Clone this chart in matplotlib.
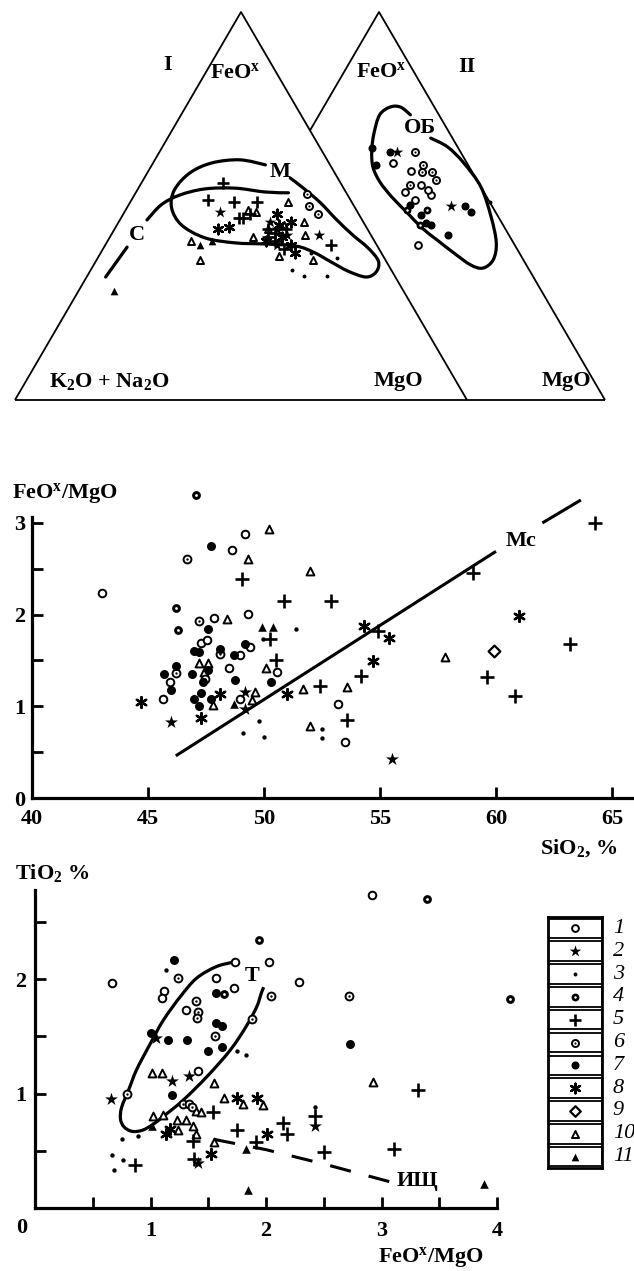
import numpy as np
import matplotlib
matplotlib.use("Agg")
import matplotlib.pyplot as plt
from matplotlib.path import Path
from matplotlib.patches import PathPatch, Rectangle

# ---------------- DATA ----------------
# Ternary diagram I (FeO^x, MgO in %, alkalis = rest): (FeO, MgO)
TI_PLUS = [(56, 18), (51.5, 17), (51, 23), (51, 28), (47, 26), (48, 28), (44, 34), (41, 37),
           (39, 40), (40, 50), (47, 27), (42, 35), (44, 38), (43, 36)]
TI_STAR = [(48.5, 21), (42.5, 46), (46, 33.5), (42.5, 39), (44, 36), (40, 38)]
TI_AST = [(44, 23), (44.5, 25), (38, 43), (48, 34), (45, 36), (40, 41), (42, 38), (46, 38), (41, 35)]
TI_OTRI = [(41, 18.5), (36, 23), (42, 31.6), (49, 27), (48.5, 29), (51, 35), (46, 41), (42.5, 43),
           (36, 48), (37, 40), (44, 34), (45, 37)]
TI_FTRI = [(28, 8), (40, 21), (41, 23)]
TI_DOT = [(33.5, 44.6), (32, 48), (32, 53), (36.6, 53), (38, 46.5)]
TI_DCIRC = [(53, 38), (50, 40), (48, 43)]
# Ternary diagram II
TII_FCIRC = [(65, 16), (60.6, 19), (64, 20.5), (42.5, 44), (50, 44), (48.5, 46), (45.6, 37.5),
             (45, 39), (50.3, 31.8), (47.7, 35.4)]
TII_DOT = [(51, 49)]
TII_STAR = [(64, 22), (50, 41)]
TII_OCIRC = [(61, 22.5), (59, 27.5), (40, 38.6), (53.6, 29), (55.4, 31.5), (52.8, 35), (51.5, 32.3),
             (54.1, 33.7)]
TII_DCIRC = [(64, 26), (60.6, 29.5), (58.8, 32.4), (58.8, 30.2), (56.7, 34.2), (55.4, 29.2)]
TII_4 = [(49, 31.8), (49, 36.2), (45.1, 36.6)]
# Field outlines (FeO, MgO)
FIELD_M = [(57.2, 32.3), (54.6, 36.5), (50.8, 42.2), (46.4, 48.0), (42.5, 53.5), (39.2, 58.5),
           (35.8, 62.5), (33.0, 63.4), (31.7, 61.8), (33.2, 57.1), (35.6, 52.1), (38.1, 47.0),
           (39.7, 42.2), (40.2, 35.3), (40.5, 28.4), (41.8, 21.1), (45.1, 14.3), (49.5, 9.9),
           (54.1, 8.2), (58.5, 9.4), (61.1, 13.0), (61.9, 18.8), (60.6, 25.1)]
TREND_C = [(53.4, 33.8), (53.6, 28.6), (54.6, 21.4), (54.4, 14.8), (52.8, 10.0), (50.3, 7.2), (46.4, 6.0)]
TREND_C_LOW = [(39.4, 5.1), (31.7, 4.2)]
FIELD_OB = [(73.5, 20.2), (75.5, 17.0), (75.5, 14.7), (73.5, 13.4), (68.8, 14.5), (64.4, 16.2),
            (60.1, 18.6), (56.2, 22.1), (52.3, 26.7), (48.2, 32.2), (44.3, 37.4), (41.2, 42.3),
            (37.9, 47.6), (34.8, 52.9), (34.0, 56.0), (36.1, 57.2), (40.5, 55.7), (47.2, 51.2),
            (54.9, 45.1), (61.1, 38.2), (65.2, 32.6), (67.5, 27.7)]

# SiO2 (%) vs FeO^x/MgO
MID_1 = [(43.0, 2.24), (48.6, 2.71), (49.3, 2.01), (47.85, 1.96), (47.3, 1.69), (47.55, 1.72),
         (49.4, 1.65), (48.95, 1.56), (50.55, 1.37), (45.95, 1.27), (48.5, 1.42), (45.65, 1.08),
         (48.98, 1.08), (53.2, 1.03), (53.5, 0.61), (49.18, 2.88)]
MID_2 = [(49.2, 1.16), (49.2, 0.97), (46.0, 0.83), (55.5, 0.42)]
MID_3 = [(51.4, 1.84), (49.8, 0.84), (49.1, 0.71), (50.0, 0.67), (52.5, 0.75), (52.5, 0.65), (49.95, 1.73)]
MID_4 = [(47.09, 3.30), (46.3, 1.83), (46.2, 2.07)]
MID_5 = [(49.05, 2.39), (50.85, 2.15), (52.9, 2.15), (50.25, 1.73), (50.5, 1.51), (52.4, 1.22),
         (54.9, 1.82), (54.2, 1.33), (53.6, 0.85), (59.0, 2.45), (59.6, 1.32), (60.8, 1.11),
         (63.2, 1.68), (64.27, 3.0)]
MID_6 = [(46.7, 2.61), (47.2, 1.93), (48.1, 1.57), (46.2, 1.36), (47.45, 1.30)]
MID_7 = [(47.7, 2.75), (47.6, 1.84), (47.0, 1.60), (47.2, 1.59), (48.1, 1.63), (48.7, 1.56),
         (46.2, 1.44), (45.7, 1.35), (46.0, 1.18), (48.75, 1.29), (50.3, 1.27), (47.0, 1.08),
         (47.2, 1.0), (47.3, 1.15), (47.7, 1.08), (47.6, 1.40), (46.9, 1.35), (47.35, 1.27), (49.2, 1.68)]
MID_8 = [(44.7, 1.05), (48.1, 1.13), (47.3, 0.87), (51.0, 1.13), (54.3, 1.88), (55.4, 1.75),
         (54.7, 1.49), (61.0, 1.99)]
MID_9 = [(59.9, 1.60)]
MID_10 = [(49.3, 2.61), (50.22, 2.93), (52.0, 2.48), (48.4, 1.95), (50.1, 1.42), (47.2, 1.47),
          (47.6, 1.47), (47.8, 1.01), (49.6, 1.16), (49.5, 1.07), (51.7, 1.19), (53.6, 1.21),
          (52.0, 0.78), (57.8, 1.54), (47.4, 1.37)]
MID_11 = [(49.9, 1.87), (50.4, 1.87), (48.7, 1.03)]
LINE_MC = [(46.2, 0.46), (60.0, 2.69)]
LINE_MC_UP = [(62.0, 3.0), (63.66, 3.25)]

# FeO^x/MgO vs TiO2 (%)
BOT_1 = [(0.67, 1.97), (1.12, 1.90), (1.10, 1.84), (1.73, 2.15), (2.03, 2.15), (2.29, 1.98),
         (1.57, 2.01), (1.72, 1.92), (1.31, 1.73), (1.41, 1.20), (2.92, 2.74)]
BOT_2 = [(0.66, 0.95), (1.19, 1.11), (1.33, 1.15), (2.42, 0.72), (1.41, 0.39), (1.05, 1.49)]
BOT_3 = [(1.13, 2.08), (1.75, 1.37), (1.83, 1.34), (0.75, 0.60), (0.67, 0.46), (0.76, 0.42),
         (0.68, 0.33), (0.89, 0.63), (2.42, 0.88)]
BOT_4 = [(1.94, 2.34), (3.39, 2.70), (4.11, 1.83), (1.64, 1.87)]
BOT_5 = [(1.54, 0.84), (1.37, 0.59), (1.75, 0.68), (1.91, 0.58), (1.38, 0.43), (0.87, 0.38),
         (2.15, 0.74), (2.18, 0.65), (2.42, 0.80), (2.50, 0.49), (3.32, 1.03), (3.11, 0.52)]
BOT_6 = [(1.24, 2.01), (2.04, 1.85), (1.39, 1.81), (1.41, 1.71), (1.40, 1.66), (1.56, 1.50),
         (1.88, 1.65), (2.72, 1.85), (0.80, 1.0), (1.28, 0.91), (1.33, 0.91), (1.36, 0.88)]
BOT_7 = [(1.20, 2.17), (1.57, 1.88), (1.57, 1.62), (1.62, 1.59), (1.0, 1.53), (1.15, 1.47),
         (1.32, 1.47), (1.50, 1.37), (1.62, 1.41), (1.19, 0.99), (2.73, 1.43)]
BOT_8 = [(1.75, 0.96), (1.92, 0.96), (1.13, 0.65), (1.17, 0.69), (2.01, 0.65), (1.52, 0.47)]
BOT_10 = [(1.01, 1.18), (1.10, 1.18), (1.55, 1.09), (1.64, 0.96), (1.80, 0.91), (1.97, 0.90),
          (1.39, 0.85), (1.44, 0.84), (1.02, 0.80), (1.11, 0.81), (1.23, 0.77), (1.31, 0.77),
          (1.24, 0.68), (1.37, 0.72), (1.39, 0.65), (1.55, 0.58), (2.93, 1.10)]
BOT_11 = [(1.01, 0.72), (1.83, 0.52), (1.84, 0.16), (3.89, 0.21)]
FIELD_T = [(1.72, 2.15), (1.57, 2.11), (1.40, 2.01), (1.26, 1.85), (1.11, 1.64), (1.0, 1.44),
           (0.88, 1.21), (0.81, 1.03), (0.75, 0.88), (0.74, 0.78), (0.77, 0.71), (0.84, 0.67),
           (0.93, 0.68), (1.02, 0.73), (1.11, 0.80), (1.28, 0.94), (1.49, 1.15), (1.69, 1.38),
           (1.83, 1.59), (1.92, 1.76), (1.96, 1.88), (1.98, 1.93)]
TREND_ISH = [(1.55, 0.60), (2.0, 0.51), (2.5, 0.385), (3.07, 0.23)]

LEGEND_LABELS = ['1', '2', '3', '4', '5', '6', '7', '8', '9', '10', '11']
MID_XTICKS = [40, 45, 50, 55, 60, 65]
MID_YTICKS = [0, 1, 2, 3]
BOT_XTICKS = [0, 1, 2, 3, 4]
BOT_YTICKS = [1, 2]

# ---------------- STYLE ----------------
plt.rcParams['font.family'] = ['Liberation Serif', 'DejaVu Serif']
plt.rcParams['mathtext.fontset'] = 'custom'
plt.rcParams['mathtext.rm'] = 'Liberation Serif:bold'
plt.rcParams['mathtext.it'] = 'Liberation Serif:italic:bold'
plt.rcParams['mathtext.bf'] = 'Liberation Serif:bold'
FS = 16
W, H = 634, 1271
SHIFT = 138 / 4.52   # horizontal offset of triangle II (in % of the base)

fig = plt.figure(figsize=(W / 100, H / 100), dpi=100)


def fx(px):
    return px / W


def fy(py):
    return 1 - py / H


def smooth(pts, closed=False):
    P = np.asarray(pts, float)
    if closed:
        P = np.vstack([P[-1], P, P[0], P[1]])
    else:
        P = np.vstack([P[0], P, P[-1]])
    verts = [P[1]]
    codes = [Path.MOVETO]
    for i in range(1, len(P) - 2):
        p0, p1, p2, p3 = P[i - 1], P[i], P[i + 1], P[i + 2]
        verts += [p1 + (p2 - p0) / 6, p2 - (p3 - p1) / 6, p2]
        codes += [Path.CURVE4] * 3
    return Path(verts, codes)


def tern(pairs, shift=0.0):
    a = np.asarray(pairs, float)
    feo, mgo = a[:, 0], a[:, 1]
    return np.column_stack([mgo + feo / 2 + shift, feo])


def draw(ax, kind, xy, k=1.0):
    xy = np.asarray(xy, float)
    x, y = xy[:, 0], xy[:, 1]
    common = dict(clip_on=False, zorder=4)
    if kind == 1:
        ax.scatter(x, y, s=30 * k, marker='o', facecolors='white', edgecolors='black', linewidths=1.4, **common)
    elif kind == 2:
        ax.scatter(x, y, s=95 * k, marker='*', color='black', linewidths=0, **common)
    elif kind == 3:
        ax.scatter(x, y, s=10 * k, marker='o', color='black', linewidths=0, **common)
    elif kind == 4:
        ax.scatter(x, y, s=40 * k, marker='o', color='black', linewidths=0, **common)
        ax.scatter(x, y, s=4 * k, marker='o', color='white', linewidths=0, clip_on=False, zorder=5)
    elif kind == 5:
        ax.scatter(x, y, s=95 * k, marker='+', color='black', linewidths=1.9, **common)
    elif kind == 6:
        ax.scatter(x, y, s=32 * k, marker='o', facecolors='white', edgecolors='black', linewidths=1.4, **common)
        ax.scatter(x, y, s=3 * k, marker='o', color='black', linewidths=0, clip_on=False, zorder=5)
    elif kind == 7:
        ax.scatter(x, y, s=42 * k, marker='o', color='black', linewidths=0, **common)
    elif kind == 8:
        ax.scatter(x, y, s=60 * k, marker=(6, 2, 0), color='black', linewidths=1.7, **common)
    elif kind == 9:
        ax.scatter(x, y, s=36 * k, marker='D', facecolors='white', edgecolors='black', linewidths=1.6, **common)
    elif kind == 10:
        ax.scatter(x, y, s=32 * k, marker='^', facecolors='white', edgecolors='black', linewidths=1.4, **common)
    elif kind == 11:
        ax.scatter(x, y, s=38 * k, marker='^', color='black', linewidths=0, **common)


# ---------------- TOP: ternary diagrams ----------------
axT = fig.add_axes([0, fy(420), 1, 420 / H])
axT.set_xlim(-15 / 4.52, (W - 15) / 4.52)
axT.set_ylim(-20 / 3.88, 400 / 3.88)
axT.axis('off')
tl = dict(color='black', lw=1.3, solid_capstyle='butt')
axT.plot([0, 50, 100], [0, 100, 0], **tl)
yi = 100 - SHIFT
axT.plot([SHIFT + yi / 2, SHIFT + 50, SHIFT + 100], [yi, 100, 0], **tl)
axT.plot([0, SHIFT + 100], [0, 0], **tl)

cl = dict(facecolor='none', edgecolor='black', lw=2.3, zorder=3, capstyle='round')
axT.add_patch(PathPatch(smooth(tern(FIELD_M)), **cl))
axT.add_patch(PathPatch(smooth(tern(TREND_C)), **cl))
axT.add_patch(PathPatch(smooth(tern(TREND_C_LOW)), **cl))
axT.add_patch(PathPatch(smooth(tern(FIELD_OB, SHIFT)), **cl))

kT = 0.8
draw(axT, 10, tern(TI_OTRI), kT)
draw(axT, 11, tern(TI_FTRI), kT)
draw(axT, 3, tern(TI_DOT), kT)
draw(axT, 6, tern(TI_DCIRC), kT)
draw(axT, 5, tern(TI_PLUS), kT)
draw(axT, 2, tern(TI_STAR), kT)
draw(axT, 8, tern(TI_AST), kT)
draw(axT, 1, tern(TII_OCIRC, SHIFT), kT)
draw(axT, 6, tern(TII_DCIRC, SHIFT), kT)
draw(axT, 7, tern(TII_FCIRC, SHIFT), kT)
draw(axT, 4, tern(TII_4, SHIFT), kT)
draw(axT, 3, tern(TII_DOT, SHIFT), kT)
draw(axT, 2, tern(TII_STAR, SHIFT), kT)

tk = dict(fontsize=FS, fontweight='bold', ha='center', va='center')
xyM = tern([(58.8, 29.2)])[0]
axT.text(xyM[0], xyM[1], 'М', **tk)
xyC = tern([(42.5, 5.7)])[0]
axT.text(xyC[0], xyC[1], 'С', **tk)
xyOB = tern([(70.1, 24.0)], SHIFT)[0]
axT.text(xyOB[0], xyOB[1], 'ОБ', **tk)
axT.text((168 - 15) / 4.52, (400 - 65) / 3.88, 'I', **tk)
axT.text((467 - 15) / 4.52, (400 - 67) / 3.88, 'II', **tk)
axT.text((235 - 15) / 4.52, (400 - 73) / 3.88, r'FeO$^\mathrm{x}$', **tk)
axT.text((381 - 15) / 4.52, (400 - 72) / 3.88, r'FeO$^\mathrm{x}$', **tk)
axT.text((109 - 15) / 4.52, (400 - 381) / 3.88, r'K$_2$O + Na$_2$O', **tk)
axT.text((398 - 15) / 4.52, (400 - 381) / 3.88, 'MgO', **tk)
axT.text((566 - 15) / 4.52, (400 - 381) / 3.88, 'MgO', **tk)

# ---------------- MIDDLE: SiO2 vs FeO/MgO ----------------
axM = fig.add_axes([fx(32), fy(798), 602 / W, 281.5 / H])
axM.set_xlim(40, 65.95)
axM.set_ylim(0, 3.07)
for sp in ['top', 'right']:
    axM.spines[sp].set_visible(False)
for sp in ['left', 'bottom']:
    axM.spines[sp].set_linewidth(2.3)
axM.set_xticks(MID_XTICKS)
axM.set_xticklabels([str(v) for v in MID_XTICKS])
axM.set_yticks(MID_YTICKS)
axM.set_yticklabels([str(v) for v in MID_YTICKS])
axM.set_yticks([0.5, 1.5, 2.5], minor=True)
axM.tick_params(which='both', direction='in', length=8, width=2)
axM.tick_params(axis='x', pad=8, labelsize=FS)
axM.tick_params(axis='y', pad=5, labelsize=FS)
for lab in axM.get_xticklabels() + axM.get_yticklabels():
    lab.set_fontweight('bold')

lm = np.asarray(LINE_MC)
axM.plot(lm[:, 0], lm[:, 1], color='black', lw=2.2, solid_capstyle='butt')
lu = np.asarray(LINE_MC_UP)
axM.plot(lu[:, 0], lu[:, 1], color='black', lw=2.2, solid_capstyle='butt', clip_on=False)
axM.text(61.1, 2.8, 'Мс', fontsize=FS, fontweight='bold', ha='center', va='center')

for kind, d in [(10, MID_10), (11, MID_11), (3, MID_3), (6, MID_6), (1, MID_1), (7, MID_7),
                (4, MID_4), (5, MID_5), (8, MID_8), (2, MID_2), (9, MID_9)]:
    draw(axM, kind, d)

fig.text(fx(12), fy(493), r'FeO$^\mathrm{x}$/MgO', fontsize=FS, fontweight='bold', ha='left', va='center')
fig.text(fx(540), fy(848), r'SiO$_2$, %', fontsize=FS, fontweight='bold', ha='left', va='center')

# ---------------- BOTTOM: FeO/MgO vs TiO2 ----------------
axB = fig.add_axes([fx(35), fy(1208), 462 / W, 318 / H])
axB.set_xlim(0, 4)
axB.set_ylim(0, 2.78)
for sp in ['top', 'right']:
    axB.spines[sp].set_visible(False)
for sp in ['left', 'bottom']:
    axB.spines[sp].set_linewidth(2.3)
axB.set_xticks(BOT_XTICKS)
axB.set_xticklabels([''] + [str(v) for v in BOT_XTICKS[1:]])
axB.set_xticks([0.5, 1.5, 2.5, 3.5], minor=True)
axB.set_yticks(BOT_YTICKS)
axB.set_yticklabels([str(v) for v in BOT_YTICKS])
axB.set_yticks([0.5, 1.5, 2.5], minor=True)
axB.tick_params(which='both', direction='in', length=8, width=2)
axB.tick_params(axis='x', pad=9, labelsize=FS)
axB.tick_params(axis='y', pad=6, labelsize=FS)
for lab in axB.get_xticklabels() + axB.get_yticklabels():
    lab.set_fontweight('bold')
fig.text(fx(22), fy(1228), '0', fontsize=FS, fontweight='bold', ha='center', va='center')

axB.add_patch(PathPatch(smooth(FIELD_T), facecolor='none', edgecolor='black', lw=2.3, zorder=3))
ti = np.asarray(TREND_ISH)
axB.plot(ti[:, 0], ti[:, 1], color='black', lw=2.2, linestyle=(0, (7, 6)), solid_capstyle='butt')
axB.text(1.88, 2.03, 'Т', fontsize=FS, fontweight='bold', ha='center', va='center')
axB.text(3.31, 0.24, 'ИЩ', fontsize=FS, fontweight='bold', ha='center', va='center')

for kind, d in [(10, BOT_10), (11, BOT_11), (3, BOT_3), (6, BOT_6), (1, BOT_1), (7, BOT_7),
                (4, BOT_4), (5, BOT_5), (8, BOT_8), (2, BOT_2)]:
    draw(axB, kind, d)

fig.text(fx(378), fy(1257), r'FeO$^\mathrm{x}$/MgO', fontsize=FS, fontweight='bold', ha='left', va='center')
fig.text(fx(15), fy(873), r'TiO$_2$ %', fontsize=FS, fontweight='bold', ha='left', va='center')

# ---------------- LEGEND ----------------
axL = fig.add_axes([fx(548), fy(1168), 54 / W, 251 / H])
axL.set_xlim(0, 1)
axL.set_ylim(len(LEGEND_LABELS), 0)
axL.set_xticks([])
axL.set_yticks([])
for sp in axL.spines.values():
    sp.set_linewidth(2.0)
for i, lab in enumerate(LEGEND_LABELS):
    axL.add_patch(Rectangle((0.0, i + 0.07), 1.0, 0.86, fill=False, lw=1.3, edgecolor='black'))
    draw(axL, i + 1, [(0.5, i + 0.5)], 0.8)
    axL.text(1.2, i + 0.5, lab, fontsize=FS, fontstyle='italic', ha='left', va='center', clip_on=False)

fig.savefig('out.png', dpi=100)
